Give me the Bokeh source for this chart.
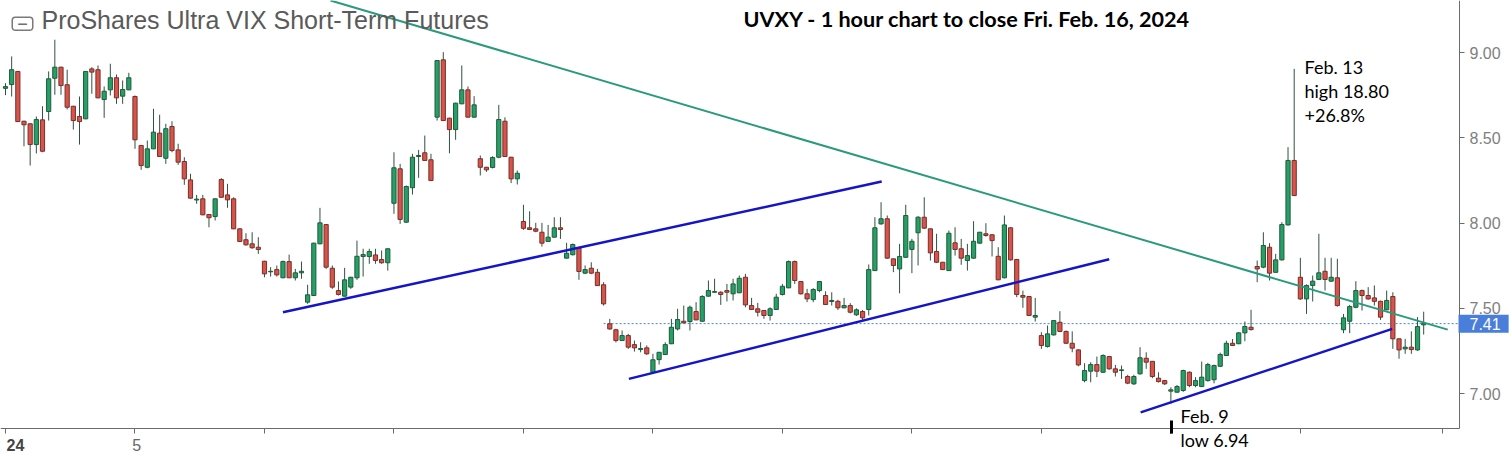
import pandas as pd
from bokeh.plotting import figure
from bokeh.models import Range1d, FixedTicker, Label, Arrow, ColumnDataSource
from bokeh.embed import file_html
from bokeh.resources import INLINE

# ---- hourly OHLC (bar index 0..230) ----
OPEN = [8.790, 8.812, 8.889, 8.597, 8.582, 8.460, 8.605, 8.654, 8.849, 8.914,
        8.811, 8.685, 8.625, 8.611, 8.904, 8.899, 8.724, 8.781, 8.852, 8.744,
        8.781, 8.742, 8.455, 8.327, 8.435, 8.527, 8.380, 8.566, 8.429, 8.361,
        8.253, 8.135, 8.142, 8.050, 8.038, 8.255, 8.165, 8.142, 7.966, 7.902,
        7.878, 7.858, 7.776, 7.714, 7.727, 7.679, 7.774, 7.679, 7.708, 7.536,
        7.575, 7.878, 7.991, 7.735, 7.604, 7.571, 7.624, 7.679, 7.804, 7.804,
        7.813, 7.786, 7.767, 8.116, 8.318, 8.005, 8.207, 8.390, 8.412, 8.371,
        8.621, 8.957, 8.615, 8.548, 8.699, 8.781, 8.621, 8.377, 8.327, 8.326,
        8.386, 8.597, 8.386, 8.259, 8.009, 7.972, 7.966, 7.946, 7.892, 7.917,
        7.972, 7.794, 7.814, 7.855, 7.706, 7.735, 7.711, 7.638, 7.409, 7.374,
        7.311, 7.340, 7.287, 7.258, 7.268, 7.125, 7.199, 7.229, 7.292, 7.379,
        7.424, 7.422, 7.481, 7.424, 7.571, 7.594, 7.594, 7.604, 7.585, 7.591,
        7.682, 7.516, 7.497, 7.487, 7.458, 7.493, 7.581, 7.620, 7.774, 7.657,
        7.585, 7.551, 7.604, 7.575, 7.540, 7.541, 7.503, 7.516, 7.462, 7.481,
        7.493, 7.721, 7.995, 8.025, 7.790, 7.731, 7.799, 7.845, 7.943, 8.034,
        7.966, 7.833, 7.770, 7.721, 7.884, 7.849, 7.780, 7.794, 7.882, 7.937,
        7.931, 7.805, 7.679, 7.972, 7.786, 7.575, 7.569, 7.448, 7.340, 7.276,
        7.344, 7.418, 7.364, 7.295, 7.256, 7.076, 7.131, 7.170, 7.125, 7.217,
        7.145, 7.135, 7.100, 7.057, 7.116, 7.207, 7.189, 7.090, 7.076, 7.014,
        7.008, 7.018, 7.125, 7.047, 7.041, 7.076, 7.081, 7.160, 7.223, 7.295,
        7.292, 7.356, 7.389, 7.745, 7.741, 7.858, 7.711, 7.784, 7.989, 8.367,
        7.682, 7.555, 7.634, 7.669, 7.717, 7.659, 7.679, 7.374, 7.424, 7.506,
        7.604, 7.575, 7.561, 7.541, 7.491, 7.569, 7.321, 7.262, 7.272, 7.256,
        7.403]
HIGH = [8.820, 8.977, 8.892, 8.600, 8.585, 8.625, 8.685, 8.889, 9.075, 8.916,
        8.899, 8.687, 8.742, 8.891, 8.914, 8.924, 8.801, 8.934, 8.871, 8.836,
        8.881, 8.748, 8.457, 8.484, 8.670, 8.635, 8.582, 8.597, 8.465, 8.386,
        8.289, 8.165, 8.165, 8.052, 8.144, 8.263, 8.230, 8.151, 7.968, 7.940,
        7.946, 7.917, 7.778, 7.741, 7.751, 7.780, 7.815, 7.731, 7.774, 7.638,
        7.884, 8.089, 7.993, 7.751, 7.657, 7.737, 7.684, 7.897, 7.849, 7.849,
        7.849, 7.839, 7.851, 8.415, 8.347, 8.220, 8.406, 8.429, 8.513, 8.406,
        8.955, 9.002, 8.617, 8.705, 8.924, 8.801, 8.744, 8.396, 8.330, 8.392,
        8.693, 8.620, 8.388, 8.308, 8.107, 8.069, 8.001, 8.001, 7.989, 8.034,
        8.034, 7.884, 7.880, 7.860, 7.751, 7.770, 7.731, 7.653, 7.438, 7.380,
        7.370, 7.350, 7.311, 7.301, 7.282, 7.233, 7.244, 7.301, 7.438, 7.497,
        7.516, 7.516, 7.536, 7.577, 7.663, 7.673, 7.600, 7.643, 7.673, 7.692,
        7.702, 7.561, 7.532, 7.489, 7.506, 7.585, 7.643, 7.780, 7.780, 7.660,
        7.614, 7.618, 7.659, 7.600, 7.594, 7.550, 7.561, 7.530, 7.500, 7.490,
        7.757, 8.034, 8.122, 8.044, 7.792, 7.878, 8.107, 7.907, 8.040, 8.151,
        7.968, 7.937, 7.772, 7.956, 7.975, 7.907, 7.878, 8.011, 7.948, 7.999,
        7.935, 7.858, 8.044, 7.975, 7.790, 7.604, 7.571, 7.561, 7.360, 7.399,
        7.430, 7.483, 7.370, 7.365, 7.260, 7.178, 7.184, 7.217, 7.230, 7.220,
        7.168, 7.164, 7.110, 7.110, 7.272, 7.242, 7.190, 7.125, 7.080, 7.037,
        7.050, 7.140, 7.130, 7.096, 7.188, 7.180, 7.170, 7.240, 7.310, 7.320,
        7.360, 7.422, 7.491, 7.780, 7.946, 7.882, 7.819, 8.005, 8.445, 8.904,
        7.796, 7.640, 7.692, 7.937, 7.796, 7.796, 7.790, 7.467, 7.520, 7.659,
        7.610, 7.624, 7.634, 7.545, 7.604, 7.594, 7.323, 7.321, 7.365, 7.448,
        7.480]
LOW = [8.750, 8.742, 8.592, 8.450, 8.337, 8.408, 8.415, 8.601, 8.752, 8.752,
       8.666, 8.548, 8.460, 8.609, 8.758, 8.732, 8.617, 8.748, 8.699, 8.699,
       8.779, 8.435, 8.312, 8.321, 8.433, 8.388, 8.347, 8.415, 8.341, 8.224,
       8.142, 8.113, 8.046, 7.975, 8.015, 8.149, 8.089, 7.964, 7.888, 7.868,
       7.849, 7.819, 7.682, 7.686, 7.686, 7.677, 7.677, 7.663, 7.673, 7.526,
       7.573, 7.876, 7.731, 7.614, 7.575, 7.569, 7.614, 7.667, 7.686, 7.761,
       7.761, 7.761, 7.721, 8.054, 7.995, 8.001, 8.167, 8.265, 8.365, 8.247,
       8.601, 8.599, 8.409, 8.488, 8.697, 8.619, 8.619, 8.279, 8.300, 8.320,
       8.380, 8.388, 8.234, 8.226, 7.960, 7.960, 7.946, 7.862, 7.890, 7.915,
       7.907, 7.792, 7.810, 7.667, 7.700, 7.700, 7.631, 7.516, 7.374, 7.300,
       7.309, 7.262, 7.246, 7.242, 7.227, 7.123, 7.170, 7.227, 7.290, 7.370,
       7.410, 7.370, 7.430, 7.422, 7.569, 7.592, 7.520, 7.540, 7.546, 7.589,
       7.506, 7.491, 7.452, 7.438, 7.428, 7.491, 7.575, 7.618, 7.643, 7.580,
       7.536, 7.536, 7.594, 7.520, 7.516, 7.490, 7.500, 7.470, 7.455, 7.430,
       7.458, 7.719, 7.990, 7.790, 7.712, 7.588, 7.797, 7.706, 7.751, 7.965,
       7.780, 7.765, 7.725, 7.719, 7.809, 7.755, 7.721, 7.790, 7.878, 7.920,
       7.804, 7.665, 7.675, 7.780, 7.565, 7.503, 7.455, 7.422, 7.262, 7.270,
       7.340, 7.360, 7.290, 7.242, 7.160, 7.066, 7.066, 7.096, 7.120, 7.140,
       7.100, 7.086, 7.055, 7.050, 7.110, 7.145, 7.090, 7.065, 7.050, 6.940,
       7.005, 7.010, 7.037, 7.037, 7.040, 7.070, 7.060, 7.155, 7.220, 7.280,
       7.290, 7.307, 7.370, 7.653, 7.735, 7.663, 7.710, 7.780, 7.985, 8.160,
       7.550, 7.467, 7.540, 7.665, 7.604, 7.655, 7.510, 7.354, 7.354, 7.500,
       7.487, 7.550, 7.516, 7.432, 7.490, 7.262, 7.204, 7.233, 7.233, 7.250,
       7.346]
CLOSE = [8.800, 8.899, 8.595, 8.576, 8.460, 8.607, 8.421, 8.846, 8.914, 8.806,
         8.679, 8.601, 8.595, 8.889, 8.885, 8.734, 8.773, 8.852, 8.734, 8.783,
         8.852, 8.488, 8.337, 8.435, 8.533, 8.390, 8.553, 8.425, 8.357, 8.259,
         8.146, 8.140, 8.048, 8.031, 8.142, 8.151, 8.136, 7.966, 7.892, 7.872,
         7.855, 7.845, 7.702, 7.717, 7.696, 7.774, 7.679, 7.708, 7.717, 7.579,
         7.882, 8.001, 7.741, 7.624, 7.581, 7.667, 7.682, 7.805, 7.815, 7.833,
         7.780, 7.767, 7.849, 8.324, 8.021, 8.214, 8.386, 8.396, 8.367, 8.249,
         8.953, 8.601, 8.548, 8.703, 8.781, 8.621, 8.693, 8.327, 8.312, 8.384,
         8.607, 8.390, 8.259, 8.292, 7.969, 7.962, 7.952, 7.882, 7.917, 7.972,
         7.962, 7.823, 7.874, 7.716, 7.727, 7.706, 7.633, 7.526, 7.379, 7.311,
         7.340, 7.272, 7.268, 7.264, 7.233, 7.198, 7.242, 7.287, 7.389, 7.434,
         7.415, 7.506, 7.432, 7.569, 7.604, 7.598, 7.581, 7.594, 7.643, 7.676,
         7.520, 7.493, 7.477, 7.458, 7.497, 7.565, 7.629, 7.774, 7.663, 7.585,
         7.555, 7.610, 7.657, 7.522, 7.546, 7.503, 7.516, 7.477, 7.491, 7.444,
         7.727, 7.972, 8.025, 7.794, 7.751, 7.804, 8.044, 7.893, 8.034, 7.970,
         7.825, 7.770, 7.727, 7.940, 7.845, 7.794, 7.809, 7.893, 7.946, 7.927,
         7.897, 7.667, 7.989, 7.784, 7.581, 7.565, 7.458, 7.458, 7.282, 7.350,
         7.428, 7.364, 7.295, 7.266, 7.168, 7.135, 7.170, 7.131, 7.223, 7.145,
         7.125, 7.139, 7.061, 7.100, 7.210, 7.184, 7.100, 7.070, 7.057, 7.022,
         7.041, 7.135, 7.047, 7.076, 7.096, 7.170, 7.164, 7.229, 7.295, 7.282,
         7.356, 7.393, 7.375, 7.731, 7.868, 7.706, 7.784, 7.991, 8.367, 8.161,
         7.555, 7.634, 7.659, 7.708, 7.669, 7.682, 7.516, 7.444, 7.510, 7.604,
         7.575, 7.555, 7.541, 7.448, 7.546, 7.321, 7.256, 7.272, 7.258, 7.393,
         7.410]

# x-axis ticks (bar index) and their labels
TICK_IDX = [0, 21, 42, 63, 84, 105, 126, 147, 168, 189, 210, 233]
TICK_LABELS = {0: "24", 21: "5"}
Y_TICKS = [7.0, 7.5, 8.0, 8.5, 9.0]

# hand-drawn trend lines (bar index, price)
TEAL_X, TEAL_Y = [52.7, 233.9], [9.305, 7.375]
BLUE1_X, BLUE1_Y = [45.0, 142.1], [7.477, 8.243]
BLUE2_X, BLUE2_Y = [101.1, 179.0], [7.086, 7.788]
BLUE3_X, BLUE3_Y = [184.1, 224.9], [6.890, 7.379]
LAST_LINE_START = 97.0
FEB9_IDX, FEB9_MARK = 189.1, [6.842, 6.765]

GREEN, GREEN_EDGE = "#25a066", "#1f5a3b"
RED, RED_EDGE = "#d9534a", "#74302a"
WICK = "#33503f"

df = pd.DataFrame(dict(i=list(range(len(OPEN))), o=OPEN, h=HIGH, l=LOW, c=CLOSE))
df["top"] = df[["o", "c"]].max(axis=1)
df["bot"] = df[["o", "c"]].min(axis=1)
up = df[df.c >= df.o]
dn = df[df.c < df.o]

W, H = 1510, 457
X0, X1 = -0.811, 244.08          # visible bar-index range
Y0, Y1 = 6.625, 9.305            # visible price range
AXIS_X, AXIS_Y = 235.81, 6.795   # where the price / time axes sit

p = figure(frame_width=W, frame_height=H,
           x_range=Range1d(X0, X1), y_range=Range1d(Y0, Y1),
           output_backend="svg", toolbar_location=None, y_axis_location="right",
           min_border_left=0, min_border_top=0, min_border_right=0, min_border_bottom=0)
p.outline_line_color = None
p.grid.visible = False
p.background_fill_color = "white"
p.border_fill_color = "white"

# axes (fixed inside the frame so that annotations around them are not clipped)
xa = p.xaxis[0]
xa.fixed_location = AXIS_Y
xa.bounds = (X0, AXIS_X)
xa.ticker = FixedTicker(ticks=TICK_IDX)
xa.major_label_overrides = {t: "" for t in TICK_IDX}
xa.major_label_text_font_size = "1px"
xa.axis_line_color = "#6b6b6b"
xa.major_tick_line_color = "#6b6b6b"
xa.major_tick_out = 5
xa.major_tick_in = 0
xa.minor_tick_line_color = None

ya = p.yaxis[0]
ya.fixed_location = AXIS_X
ya.bounds = (AXIS_Y, Y1)
ya.ticker = FixedTicker(ticks=Y_TICKS)
ya.major_label_overrides = {t: f"{t:.2f}" for t in Y_TICKS}
ya.major_label_text_font = "Liberation Sans"
ya.major_label_text_font_size = "16px"
ya.major_label_text_color = "#808080"
ya.axis_line_color = "#6b6b6b"
ya.major_tick_line_color = "#6b6b6b"
ya.major_tick_out = 5
ya.major_tick_in = 0
ya.minor_tick_line_color = None
ya.major_label_standoff = 5

# last-price dotted line
p.segment(x0=LAST_LINE_START, y0=CLOSE[-1], x1=AXIS_X, y1=CLOSE[-1],
          line_color="#4f7fe0", line_dash="2 2", line_width=1)

# candles
p.segment(x0="i", y0="l", x1="i", y1="h", source=ColumnDataSource(df),
          line_color=WICK, line_width=1)
p.vbar(x="i", width=0.68, top="top", bottom="bot", source=ColumnDataSource(up),
       fill_color=GREEN, line_color=GREEN_EDGE, line_width=1)
p.vbar(x="i", width=0.68, top="top", bottom="bot", source=ColumnDataSource(dn),
       fill_color=RED, line_color=RED_EDGE, line_width=1)

# trend lines
p.line(TEAL_X, TEAL_Y, line_color="#2a9a7c", line_width=2)
for xs, ys in [(BLUE1_X, BLUE1_Y), (BLUE2_X, BLUE2_Y), (BLUE3_X, BLUE3_Y)]:
    p.line(xs, ys, line_color="#1414c8", line_width=2.5)

# Feb. 9 marker
p.add_layout(Arrow(x_start=FEB9_IDX, y_start=FEB9_MARK[0], x_end=FEB9_IDX, y_end=FEB9_MARK[1],
                   end=None, line_color="black", line_width=3))


def lab(text, px, py, font="Liberation Sans", size="16px", color="black", style="normal", **kw):
    """px, py: left edge and baseline in pixels from the top-left corner."""
    p.add_layout(Label(x=px, y=H - py, x_units="screen", y_units="screen", text=text,
                       text_font=font, text_font_size=size, text_color=color,
                       text_font_style=style, **kw))


lab("\u2212", 22, 23.3, size="18px", color="#6f6f6f", text_align="center",
    text_baseline="middle", border_line_color="#7a7a7a", border_line_width=1.5,
    border_radius=3, padding=dict(left=5, right=5, top=0, bottom=0))
lab("ProShares Ultra VIX Short-Term Futures", 41, 33.3, size="25px", color="#5a5a5a")
lab("UVXY - 1 hour chart to close Fri. Feb. 16, 2024", 743, 31, font="Lato",
    size="21.6px", style="bold")
lab("Feb. 13", 1304, 77.3, font="Lato", size="18px")
lab("high 18.80", 1304, 101.7, font="Lato", size="18px")
lab("+26.8%", 1304, 125, font="Lato", size="18px")
lab("Feb. 9", 1180, 426.7, font="Lato", size="18px")
lab("low 6.94", 1180, 450, font="Lato", size="18px")
lab(TICK_LABELS[0], 6, 450, size="16px", color="#444444", style="bold")
lab(TICK_LABELS[21], 131.7, 450, size="16px", color="#666666")

# last price box on the price axis
p.add_layout(Label(x=1458, y=CLOSE[-1], x_units="screen", y_units="data",
                   text=f"{CLOSE[-1]:.2f}", text_font="Liberation Sans", text_font_size="16px",
                   text_color="white", text_baseline="middle",
                   background_fill_color="#4a7edb",
                   padding=dict(left=11, right=8, top=3, bottom=3)))

open("out.html", "w").write(file_html(p, INLINE))
